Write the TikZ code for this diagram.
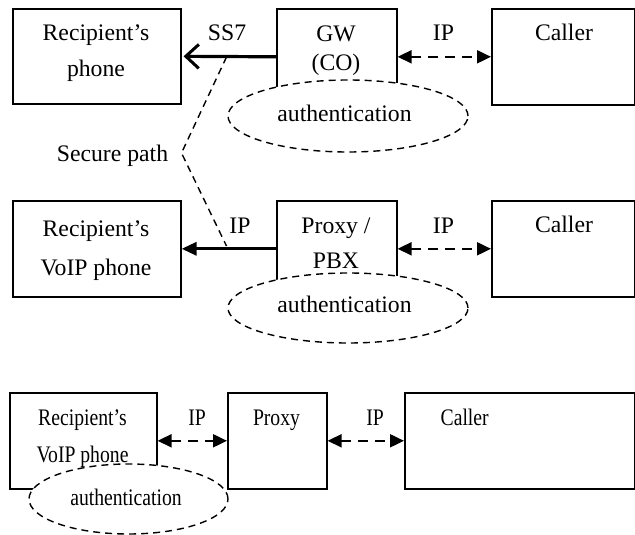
\documentclass[tikz,border=0pt]{standalone}
\usepackage{fontspec}
\setmainfont{Liberation Serif}
\usepackage{graphicx}
\usetikzlibrary{arrows.meta,shapes.geometric}
\newcommand\hsq[1]{\scalebox{0.83}[1]{#1}}
\begin{document}
\begin{tikzpicture}[x=1pt,y=-1pt,
  box/.style={draw, line width=1.6pt, inner sep=0pt, anchor=north west},
  txt/.style={font=\fontsize{23.7}{28}\selectfont, inner sep=0pt, anchor=base},
  ell/.style={draw, ellipse, dash pattern=on 7pt off 5pt, line width=1.4pt, fill=white, inner sep=0pt},
  dbl/.style={line width=2pt, dash pattern=on 10pt off 7pt,
    {Triangle[length=14pt,width=13pt]}-{Triangle[length=14pt,width=13pt]}},
  thick1/.style={line width=3.2pt, -{Straight Barb[length=13pt,width=24pt,line width=3pt]}, shorten >=2pt},
  thick2/.style={line width=3.2pt, -{Triangle[length=15pt,width=13pt]}},
  secure/.style={line width=1.4pt, dash pattern=on 7pt off 5pt}
]
\useasboundingbox (0,0) rectangle (635,535);
\fill[white] (0,0) rectangle (635,535);

% Row 1
\node[box, minimum width=168pt, minimum height=95pt] (r1) at (12,8) {};
\node[box, minimum width=120pt, minimum height=96pt] (gw) at (276,8) {};
\node[box, minimum width=143pt, minimum height=96pt] (c1) at (491,8) {};
\draw[thick1] (gw.west) -- (r1.east);
\draw[dbl] (gw.east) -- (c1.west);
\node[ell, minimum width=240pt, minimum height=72pt] (e1) at (348,116) {};

% Row 2
\node[box, minimum width=168pt, minimum height=96pt] (r2) at (12,200) {};
\node[box, minimum width=120pt, minimum height=96pt] (px) at (276,200) {};
\node[box, minimum width=143pt, minimum height=96pt] (c2) at (491,200) {};
\draw[thick2] (px.west) -- (r2.east);
\draw[dbl] (px.east) -- (c2.west);
\node[ell, minimum width=240pt, minimum height=70pt] (e2) at (348,308) {};

% Secure path
\coordinate (sp1) at (226.5,57);
\coordinate (sp2) at (181.5,153);
\coordinate (sp3) at (226.5,246);
\draw[secure] (sp1) -- (sp2) -- (sp3);

% Row 3
\node[box, minimum width=147pt, minimum height=96pt] (r3) at (9,392) {};
\node[box, minimum width=99pt, minimum height=96pt] (p3) at (227,392) {};
\node[box, minimum width=230pt, minimum height=96pt] (c3) at (404,392) {};
\draw[dbl] (r3.east) -- (p3.west);
\draw[dbl] (p3.east) -- (c3.west);
\node[ell, minimum width=199pt, minimum height=70pt] (e3) at (128.5,499) {};

% Texts row 1
\node[txt] (t1) at (96,40.7) {Recipient’s};
\node[txt] (t2) at (96,77) {phone};
\node[txt] (t3) at (227,41) {SS7};
\node[txt] (t4) at (336,41.5) {GW};
\node[txt] (t5) at (336,70.5) {(CO)};
\node[txt] (t6) at (443.5,41) {IP};
\node[txt] (t7) at (564,41) {Caller};
\node[txt] (t8) at (344.5,121.7) {authentication};
\node[txt] (t9) at (112.5,161.7) {Secure path};

% Texts row 2
\node[txt] (u1) at (96,236.7) {Recipient’s};
\node[txt] (u2) at (96,275) {VoIP phone};
\node[txt] (u3) at (240,233) {IP};
\node[txt] (u4) at (336,233) {Proxy /};
\node[txt] (u5) at (336,268.3) {PBX};
\node[txt] (u6) at (443.5,233) {IP};
\node[txt] (u7) at (564,232.5) {Caller};
\node[txt] (u8) at (344.5,312) {authentication};

% Texts row 3
\node[txt] (v1) at (82.5,425) {\hsq{Recipient’s}};
\node[txt] (v2) at (82.5,462) {\hsq{VoIP phone}};
\node[txt] (v3) at (197,425) {\hsq{IP}};
\node[txt] (v4) at (276.5,425) {\hsq{Proxy}};
\node[txt] (v5) at (375,425) {\hsq{IP}};
\node[txt] (v6) at (464.7,425) {\hsq{Caller}};
\node[txt] (v7) at (126,505) {\hsq{authentication}};
\end{tikzpicture}
\end{document}
